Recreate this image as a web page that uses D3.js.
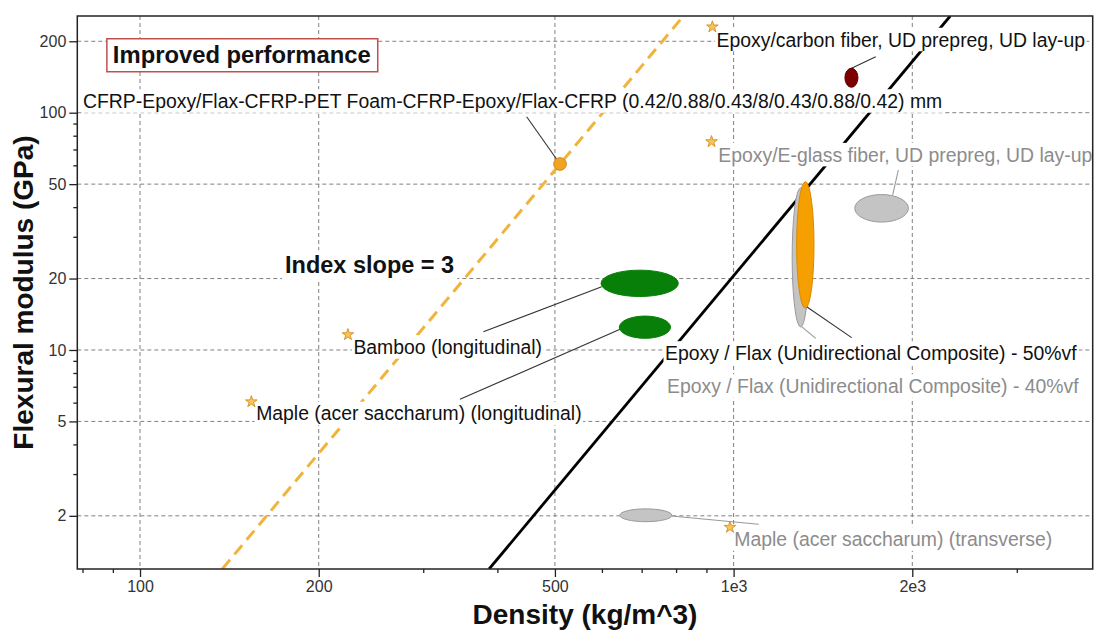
<!DOCTYPE html>
<html><head><meta charset="utf-8">
<script src="https://cdn.jsdelivr.net/npm/d3@7"></script>
<style>body{margin:0;background:#fff} svg{display:block}</style>
</head><body>
<svg id="chart" width="1094" height="631"></svg>
<script>
// ---------- data ----------
const densityDomain = [78.4, 4027];
const modulusDomain = [1.194, 255.6];
const densityTicks = [100, 200, 500, 1000, 2000];
const densityTickLabels = ["100", "200", "500", "1e3", "2e3"];
const densityMinorTicks = [80, 90, 300, 400, 600, 700, 800, 900, 3000];
const modulusTicks = [2, 5, 10, 20, 50, 100, 200];
const modulusTickLabels = ["2", "5", "10", "20", "50", "100", "200"];
const modulusMinorTicks = [3, 4, 6, 7, 8, 9, 30, 40, 60, 70, 80, 90];

const materials = [
  "Epoxy/carbon fiber, UD prepreg, UD lay-up",
  "Epoxy/E-glass fiber, UD prepreg, UD lay-up",
  "Epoxy / Flax (Unidirectional Composite) - 40%vf",
  "Epoxy / Flax (Unidirectional Composite) - 50%vf",
  "Bamboo (longitudinal)",
  "Maple (acer saccharum) (longitudinal)",
  "Maple (acer saccharum) (transverse)"
];
const densityLow  = [1540, 1600, 1255, 1277, 598, 642, 643];
const densityHigh = [1620, 1970, 1340, 1366, 807, 783, 787];
const modulusLow  = [128, 34.6, 12.5, 15.0, 16.8, 11.2, 1.89];
const modulusHigh = [154, 45.2, 48.2, 51.2, 21.7, 13.9, 2.14];

const sandwichName = "CFRP-Epoxy/Flax-CFRP-PET Foam-CFRP-Epoxy/Flax-CFRP (0.42/0.88/0.43/8/0.43/0.88/0.42) mm";
const sandwichDensity = 510;
const sandwichModulus = 60.8;

const starDensity = [921, 918, 224, 154, 986];
const starModulus = [230, 75.5, 11.6, 6.05, 1.79];

const indexSlope = 3;
const indexAnchorsDensity = [510, 1337];
const indexAnchorsModulus = [60.8, 49.1];

// annotation anchors (data units): label text origin
const labelTexts = [materials[0], materials[1], materials[2], materials[3], materials[4], materials[5], materials[6], sandwichName];
const labelDensity = [936, 942.4, 772.3, 766.3, 228.8, 156.9, 1002.7, 80.15];
const labelModulus = [190.1, 62.2, 6.59, 9.08, 9.62, 5.045, 1.493, 104.7];
// leader lines (data units)
const leaderFromDensity = [1735.6, 1894.6, 1375, 1581, 378.8, 346, 1102, 448.1];
const leaderFromModulus = [172.2, 57.35, 11.2, 11.27, 11.94, 6.2, 1.842, 96.2];
const leaderToDensity   = [1577, 1853.6, 1302, 1327.7, 599.5, 643.8, 786, 510];
const leaderToModulus   = [153.6, 45.0, 12.54, 15.22, 18.48, 12.22, 1.998, 60.8];

const slopeText = "Index slope = 3";
const slopeTextDensity = 175.5, slopeTextModulus = 21.17;
const boxText = "Improved performance";
const boxTextDensity = 90.0, boxTextModulus = 161.6;

const xTitle = "Density (kg/m^3)";
const yTitle = "Flexural modulus (GPa)";

// ---------- styles ----------
const bubbleFill   = ["#7d0000", "#c4c4c4", "#c4c4c4", "#f5a000", "#087f08", "#087f08", "#c4c4c4"];
const bubbleStroke = ["#5a0000", "#9a9a9a", "#9a9a9a", "#d88a00", "#087f08", "#087f08", "#9a9a9a"];
const labelColor   = ["#111", "#8c8c8c", "#8c8c8c", "#111", "#111", "#111", "#8c8c8c", "#111"];
const leaderColor  = ["#333", "#999", "#999", "#333", "#333", "#333", "#999", "#333"];
const FONT = "'Liberation Sans', Arial, Helvetica, sans-serif";

// ---------- layout ----------
const L = 77.3, R = 1092.7, T = 16, B = 569;
const svg = d3.select("#chart");
const x = d3.scaleLog().domain(densityDomain).range([L, R]);
const y = d3.scaleLog().domain(modulusDomain).range([B, T]);

svg.append("defs").append("clipPath").attr("id", "plotclip")
  .append("rect").attr("x", L).attr("y", T).attr("width", R - L).attr("height", B - T);

// gridlines
const grid = svg.append("g").attr("stroke", "#808080").attr("stroke-width", 1).attr("stroke-dasharray", "4,3");
grid.selectAll("line.v").data(densityTicks).join("line")
  .attr("x1", d => x(d)).attr("x2", d => x(d)).attr("y1", T).attr("y2", B);
grid.selectAll("line.h").data(modulusTicks).join("line")
  .attr("y1", d => y(d)).attr("y2", d => y(d)).attr("x1", L).attr("x2", R);

const plot = svg.append("g").attr("clip-path", "url(#plotclip)");

// index lines
const indexStyles = [
  {stroke: "#efb43c", width: 3, dash: "12,7"},
  {stroke: "#000", width: 2.8, dash: null}
];
indexAnchorsDensity.forEach((da, i) => {
  const ea = indexAnchorsModulus[i];
  const pts = modulusDomain.map(e => [da * Math.pow(e / ea, 1 / indexSlope), e]);
  plot.append("line")
    .attr("x1", x(pts[0][0])).attr("y1", y(pts[0][1]))
    .attr("x2", x(pts[1][0])).attr("y2", y(pts[1][1]))
    .attr("stroke", indexStyles[i].stroke).attr("stroke-width", indexStyles[i].width)
    .attr("stroke-dasharray", indexStyles[i].dash);
});

// leader lines
labelTexts.forEach((t, i) => {
  plot.append("line")
    .attr("x1", x(leaderFromDensity[i])).attr("y1", y(leaderFromModulus[i]))
    .attr("x2", x(leaderToDensity[i])).attr("y2", y(leaderToModulus[i]))
    .attr("stroke", leaderColor[i]).attr("stroke-width", 1.1);
});

// bubbles
materials.forEach((m, i) => {
  const x0 = x(densityLow[i]), x1 = x(densityHigh[i]);
  const y0 = y(modulusHigh[i]), y1 = y(modulusLow[i]);
  plot.append("ellipse")
    .attr("cx", (x0 + x1) / 2).attr("cy", (y0 + y1) / 2)
    .attr("rx", (x1 - x0) / 2).attr("ry", (y1 - y0) / 2)
    .attr("fill", bubbleFill[i]).attr("stroke", bubbleStroke[i]).attr("stroke-width", 1);
});

// sandwich point
plot.append("circle").attr("cx", x(sandwichDensity)).attr("cy", y(sandwichModulus)).attr("r", 6.3)
  .attr("fill", "#f2a324").attr("stroke", "#d08512").attr("stroke-width", 1);

// labels with white background
function bgLabel(g, txt, px, py, size, weight, color, pad) {
  const grp = g.append("g");
  const t = grp.append("text").attr("x", px).attr("y", py)
    .attr("font-family", FONT).attr("font-size", size).attr("font-weight", weight)
    .attr("fill", color).text(txt);
  const bb = t.node().getBBox();
  grp.insert("rect", "text").attr("x", bb.x - pad).attr("y", bb.y - pad * 0.5)
    .attr("width", bb.width + 2 * pad).attr("height", bb.height + pad)
    .attr("fill", "#fff");
  return {grp, bb};
}
const labels = svg.append("g");
labelTexts.forEach((t, i) => {
  bgLabel(labels, t, x(labelDensity[i]), y(labelModulus[i]), 19.4, "normal", labelColor[i], 1.5);
});
bgLabel(labels, slopeText, x(slopeTextDensity), y(slopeTextModulus), 23.5, "bold", "#111", 3);

// Improved performance box
{
  const g = labels.append("g");
  const t = g.append("text").attr("x", x(boxTextDensity)).attr("y", y(boxTextModulus))
    .attr("font-family", FONT).attr("font-size", 23.8).attr("font-weight", "bold")
    .attr("fill", "#111").text(boxText);
  const bb = t.node().getBBox();
  g.insert("rect", "text").attr("x", bb.x - 6).attr("y", bb.y - 2.5)
    .attr("width", bb.width + 13).attr("height", bb.height + 6)
    .attr("fill", "#fff").attr("stroke", "#c0504d").attr("stroke-width", 1.5);
}

// stars
const star = d3.symbol().type(d3.symbolStar).size(42);
svg.append("g").selectAll("path").data(starDensity).join("path")
  .attr("d", star)
  .attr("transform", (d, i) => `translate(${x(d)},${y(starModulus[i])})`)
  .attr("fill", "#f7c55a").attr("stroke", "#d08f22").attr("stroke-width", 0.9);

// axes
function styleAxis(g, size) {
  g.select(".domain").remove();
  g.selectAll(".tick line").attr("stroke", "#222").attr("stroke-width", 1.3);
  g.selectAll(".tick text").attr("font-family", FONT).attr("font-size", size).attr("fill", "#333");
}
svg.append("g").attr("transform", `translate(0,${B})`)
  .call(d3.axisBottom(x).tickValues(densityTicks).tickFormat((d, i) => densityTickLabels[i]).tickSize(8).tickPadding(4).tickSizeOuter(0))
  .call(g => styleAxis(g, 16));
svg.append("g").attr("transform", `translate(0,${B})`)
  .call(d3.axisBottom(x).tickValues(densityMinorTicks).tickFormat("").tickSize(4).tickSizeOuter(0))
  .call(g => styleAxis(g, 16));
svg.append("g").attr("transform", `translate(${L},0)`)
  .call(d3.axisLeft(y).tickValues(modulusTicks).tickFormat((d, i) => modulusTickLabels[i]).tickSize(8).tickPadding(3).tickSizeOuter(0))
  .call(g => styleAxis(g, 16));
svg.append("g").attr("transform", `translate(${L},0)`)
  .call(d3.axisLeft(y).tickValues(modulusMinorTicks).tickFormat("").tickSize(4).tickSizeOuter(0))
  .call(g => styleAxis(g, 16));

// frame
svg.append("rect").attr("x", L).attr("y", T).attr("width", R - L).attr("height", B - T)
  .attr("fill", "none").attr("stroke", "#222").attr("stroke-width", 1.5);

// titles
svg.append("text").attr("x", (L + R) / 2).attr("y", 624).attr("text-anchor", "middle")
  .attr("font-family", FONT).attr("font-size", 28).attr("font-weight", "bold").attr("fill", "#111")
  .text(xTitle);
svg.append("text").attr("transform", `translate(33,${(T + B) / 2}) rotate(-90)`).attr("text-anchor", "middle")
  .attr("font-family", FONT).attr("font-size", 28).attr("font-weight", "bold").attr("fill", "#111")
  .text(yTitle);
</script></body></html>
